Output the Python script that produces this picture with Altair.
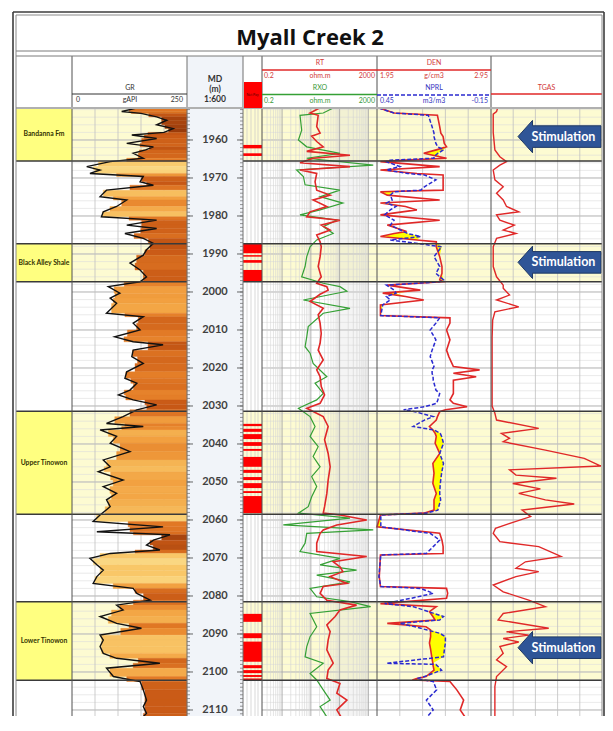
import altair as alt
import pandas as pd

TITLE = "Myall Creek 2"

zone_names = ["Bandanna Fm", "Black Alley Shale", "Upper Tinowon", "Lower Tinowon"]
zone_top = [1951.6, 1987.3, 2031.4, 2081.5]
zone_base = [1965.5, 1997.3, 2058.5, 2102.2]

net_pay_top = [1961.3, 1963.5, 1987.2, 1990.3, 1991.6, 1994.2, 2034.7, 2036.0, 2037.4, 2039.5,
               2041.3, 2043.4, 2046.8, 2048.7, 2050.3, 2052.4, 2053.7, 2084.7, 2089.8, 2092.0,
               2098.2, 2099.5, 2100.8, 2101.7]
net_pay_base = [1962.2, 1964.2, 1989.8, 1990.7, 1992.3, 1997.3, 2035.3, 2036.8, 2038.7, 2040.5,
                2041.8, 2046.0, 2047.6, 2049.5, 2051.6, 2052.9, 2058.2, 2086.8, 2091.1, 2097.3,
                2099.0, 2100.3, 2101.3, 2102.1]

stim_depth = [1959.1, 1992.2, 2093.6]
stim_label = ["Stimulation", "Stimulation", "Stimulation"]

depth_labels = [1960, 1970, 1980, 1990, 2000, 2010, 2020, 2030, 2040, 2050, 2060, 2070, 2080, 2090, 2100, 2110]

# (depth m, GR gAPI)
gr_log = [(1951.6, 140), (1952.5, 108), (1953.0, 150), (1953.9, 184), (1954.8, 206), (1956.0, 184),
          (1957.0, 220), (1958.0, 200), (1958.7, 130), (1959.6, 184), (1960.9, 119), (1961.8, 177),
          (1962.6, 160), (1963.5, 133), (1964.8, 155), (1965.7, 83), (1967.0, 32), (1967.9, 61),
          (1968.8, 39), (1969.6, 155), (1971.0, 148), (1971.9, 177), (1973.2, 75), (1974.9, 61),
          (1975.8, 119), (1977.5, 97), (1978.9, 68), (1980.2, 64), (1981.1, 184), (1982.4, 119),
          (1983.3, 184), (1984.6, 115), (1985.9, 155), (1987.2, 177), (1988.9, 162), (1990.3, 155),
          (1992.4, 126), (1994.2, 148), (1996.0, 162), (1997.3, 148), (1998.6, 79), (2000.3, 104),
          (2001.6, 83), (2003.0, 97), (2005.6, 75), (2006.5, 155), (2008.2, 133), (2010.0, 148),
          (2011.8, 93), (2013.1, 133), (2013.9, 198), (2015.3, 133), (2017.0, 130), (2018.8, 155),
          (2021.0, 119), (2022.7, 115), (2024.0, 141), (2025.8, 126), (2027.1, 101), (2028.4, 133),
          (2029.7, 184), (2031.0, 141), (2032.8, 111), (2034.6, 75), (2035.4, 155), (2036.3, 61),
          (2038.0, 97), (2039.8, 83), (2042.0, 126), (2044.2, 68), (2046.0, 83), (2047.3, 57),
          (2049.5, 111), (2051.2, 68), (2053.0, 97), (2054.7, 75), (2056.5, 83), (2058.7, 61),
          (2060.4, 46), (2061.8, 198), (2063.1, 54), (2063.9, 213), (2065.3, 177), (2066.6, 162),
          (2067.9, 191), (2068.8, 83), (2070.1, 39), (2071.8, 54), (2073.2, 68), (2074.9, 54),
          (2076.7, 46), (2078.0, 133), (2079.3, 141), (2081.1, 170), (2082.4, 97), (2083.7, 111),
          (2085.4, 61), (2087.2, 97), (2088.5, 151), (2090.3, 61), (2091.6, 68), (2093.3, 61),
          (2095.1, 68), (2096.4, 97), (2097.7, 191), (2099.0, 75), (2101.2, 90), (2102.5, 148),
          (2104.7, 155), (2107.4, 162), (2109.1, 155), (2110.9, 162), (2112.6, 148), (2114.8, 119)]

# (depth m, RT ohm.m)
rt_log = [(1951.6, 20), (1952.9, 9.4), (1953.5, 18), (1956.5, 16), (1958.2, 21), (1959.0, 10.7),
          (1960.4, 16), (1961.8, 27), (1963.0, 7.2), (1964.0, 230), (1964.8, 12), (1966.0, 4.2),
          (1967.0, 230), (1967.9, 4.2), (1968.8, 16), (1971.0, 14), (1973.2, 16), (1974.5, 47),
          (1975.8, 12), (1977.5, 36), (1978.9, 9.4), (1980.2, 7.2), (1981.1, 103), (1982.4, 23),
          (1983.7, 47), (1985.0, 16), (1986.8, 21), (1988.1, 23), (1990.7, 21), (1993.3, 18),
          (1996.0, 23), (1997.7, 16), (1998.6, 36), (1999.5, 40), (2000.6, 21), (2002.5, 9.4),
          (2004.3, 27), (2006.0, 18), (2008.2, 21), (2010.9, 23), (2013.5, 21), (2015.3, 18),
          (2017.9, 27), (2020.5, 16), (2022.3, 21), (2024.9, 23), (2027.1, 30), (2029.3, 21),
          (2030.6, 7.2), (2032.8, 27), (2035.4, 40), (2038.9, 30), (2042.5, 40), (2046.0, 47),
          (2049.5, 40), (2053.0, 36), (2056.5, 30), (2058.2, 27), (2058.7, 103), (2060.0, 880),
          (2061.3, 80), (2062.6, 27), (2063.5, 21), (2066.1, 16), (2068.3, 16), (2069.6, 880),
          (2071.0, 60), (2072.3, 103), (2073.6, 130), (2074.9, 47), (2076.7, 180), (2077.5, 27),
          (2079.3, 21), (2081.1, 36), (2082.4, 390), (2083.7, 103), (2085.4, 70), (2087.6, 36),
          (2089.4, 47), (2091.6, 40), (2094.2, 36), (2097.7, 60), (2099.5, 40), (2101.7, 36),
          (2103.0, 103), (2105.6, 80), (2107.4, 180), (2110.0, 80), (2112.6, 130), (2115.3, 103)]

# (depth m, RXO ohm.m)
rxo_log = [(1951.6, 60), (1952.9, 27), (1953.5, 4.2), (1957.4, 4.8), (1960.0, 3.7), (1961.8, 7.2),
           (1963.5, 103), (1964.8, 7.2), (1966.6, 1480), (1967.9, 3.2), (1969.6, 5.5), (1971.8, 6.3),
           (1973.2, 103), (1974.9, 21), (1976.6, 130), (1978.4, 21), (1979.7, 4.2), (1981.1, 80),
           (1982.8, 27), (1984.6, 60), (1986.3, 16), (1988.1, 9.4), (1990.7, 7.2), (1993.3, 6.3),
           (1996.0, 4.8), (1997.7, 27), (1998.6, 103), (1999.8, 180), (2002.1, 5.5), (2004.3, 230),
           (2005.6, 27), (2009.1, 8.1), (2011.8, 7.2), (2014.4, 6.3), (2016.1, 9.4), (2018.8, 12),
           (2022.3, 36), (2024.0, 14), (2026.7, 27), (2028.4, 16), (2030.6, 3.7), (2032.8, 9.4),
           (2035.4, 14), (2038.0, 9.4), (2040.7, 18), (2043.3, 12), (2046.0, 21), (2048.6, 10.7),
           (2051.2, 16), (2053.9, 10.7), (2056.5, 8.1), (2058.2, 3.7), (2059.5, 230), (2061.3, 1.1),
           (2062.6, 1480), (2063.5, 7.2), (2066.1, 6.3), (2068.3, 4.2), (2070.1, 103), (2071.8, 21),
           (2073.2, 390), (2074.5, 16), (2076.3, 230), (2078.0, 9.4), (2080.2, 16), (2081.5, 230),
           (2082.8, 1200), (2084.6, 9.4), (2088.1, 16), (2090.7, 9.4), (2093.3, 7.2), (2096.0, 6.3),
           (2097.7, 27), (2100.4, 9.4), (2102.1, 16), (2104.7, 27), (2107.4, 47), (2109.1, 21),
           (2111.8, 36), (2114.4, 21)]

# (depth m, DEN g/cm3, NPRL m3/m3)
den_nprl_log = [
    (1951.6, 1.97, 0.44), (1952.9, 2.10, 0.36), (1953.5, 2.48, 0.18), (1956.5, 2.50, 0.16),
    (1958.2, 2.51, 0.15), (1959.1, 2.53, 0.15), (1960.9, 2.54, 0.14), (1961.8, 2.56, 0.13),
    (1962.6, 2.47, 0.10), (1963.5, 2.36, 0.13), (1964.4, 2.50, 0.15), (1964.8, 2.56, 0.15),
    (1965.3, 2.20, 0.38), (1965.7, 1.98, 0.40), (1967.0, 2.50, 0.33), (1967.9, 1.98, 0.40),
    (1968.8, 2.30, 0.29), (1969.2, 2.53, 0.20), (1970.5, 2.53, 0.14), (1972.3, 2.53, 0.20),
    (1973.2, 2.53, 0.22), (1973.6, 1.98, 0.36), (1974.5, 2.04, 0.38), (1975.8, 2.50, 0.37),
    (1976.6, 1.98, 0.40), (1977.5, 2.20, 0.35), (1978.4, 2.30, 0.38), (1979.7, 1.98, 0.41),
    (1981.1, 2.50, 0.36), (1982.4, 2.04, 0.38), (1984.1, 2.21, 0.31), (1984.6, 2.10, 0.29),
    (1985.4, 1.98, 0.22), (1986.3, 2.30, 0.38), (1986.8, 2.47, 0.30), (1988.1, 2.47, 0.11),
    (1990.7, 2.50, 0.15), (1993.3, 2.52, 0.12), (1995.1, 2.52, 0.14), (1996.8, 2.50, 0.10),
    (1997.3, 2.53, 0.12), (1998.2, 2.04, 0.40), (1999.5, 2.33, 0.36), (2000.3, 2.00, 0.35),
    (2001.2, 2.20, 0.40), (2002.1, 2.36, 0.38), (2003.4, 1.98, 0.42), (2006.2, 1.98, 0.43),
    (2006.8, 2.59, 0.12), (2008.2, 2.59, 0.14), (2010.0, 2.56, 0.17), (2012.6, 2.59, 0.14),
    (2015.3, 2.56, 0.16), (2017.0, 2.58, 0.17), (2019.6, 2.62, 0.15), (2020.5, 2.85, 0.16),
    (2021.4, 2.62, 0.16), (2022.3, 2.82, 0.155), (2023.2, 2.62, 0.154), (2025.8, 2.62, 0.14),
    (2026.7, 2.62, 0.12), (2028.4, 2.59, 0.13), (2029.3, 2.62, 0.136), (2030.2, 2.74, 0.20),
    (2031.0, 2.55, 0.31), (2031.5, 2.50, 0.25), (2032.8, 2.48, 0.154), (2033.7, 2.47, 0.20),
    (2035.4, 2.41, 0.26), (2036.3, 2.44, 0.15), (2037.2, 2.46, 0.117), (2038.0, 2.47, 0.11),
    (2039.8, 2.46, 0.10), (2042.5, 2.50, 0.12), (2045.1, 2.44, 0.10), (2047.7, 2.45, 0.11),
    (2050.4, 2.44, 0.117), (2053.0, 2.47, 0.12), (2054.7, 2.45, 0.115), (2057.4, 2.45, 0.13),
    (2058.2, 2.36, 0.19), (2058.7, 1.98, 0.43), (2061.8, 1.95, 0.43), (2063.5, 2.50, 0.17),
    (2065.3, 2.52, 0.12), (2067.0, 2.53, 0.154), (2068.8, 2.53, 0.19), (2069.2, 1.98, 0.43),
    (2074.9, 1.97, 0.44), (2077.5, 1.98, 0.43), (2078.0, 2.56, 0.22), (2079.3, 2.57, 0.154),
    (2080.6, 2.56, 0.27), (2082.0, 1.98, 0.41), (2082.8, 2.47, 0.26), (2084.1, 2.41, 0.18),
    (2085.4, 2.44, 0.10), (2086.3, 2.46, 0.12), (2087.2, 2.04, 0.33), (2088.1, 2.38, 0.25),
    (2088.9, 2.42, 0.19), (2089.8, 2.42, 0.12), (2090.7, 2.42, 0.09), (2092.4, 2.41, 0.09),
    (2094.0, 2.42, 0.095), (2096.0, 2.43, 0.10), (2097.7, 2.44, 0.40), (2098.0, 2.44, 0.14),
    (2099.5, 2.45, 0.11), (2101.2, 2.38, 0.20), (2101.7, 2.30, 0.24), (2102.1, 2.26, 0.20),
    (2102.5, 2.59, 0.154), (2104.7, 2.65, 0.136), (2107.4, 2.71, 0.19), (2110.0, 2.68, 0.154),
    (2112.6, 2.74, 0.20), (2115.3, 2.65, 0.17)]

# (depth m, TGAS relative units 0-100)
tgas_log = [(1951.6, 6), (1952.5, 5), (1953.2, 2), (1958.0, 2), (1962.6, 3.5), (1964.4, 8),
            (1965.7, 14), (1966.6, 8), (1967.9, 2), (1970.5, 3.5), (1972.3, 11), (1974.0, 5),
            (1975.8, 11), (1977.5, 14), (1978.9, 25), (1979.7, 5), (1981.1, 8), (1982.4, 21),
            (1983.7, 11), (1984.6, 22.5), (1985.9, 5), (1988.1, 2), (1993.3, 2), (1996.0, 5),
            (1998.2, 11), (1999.0, 11), (2000.8, 16.7), (2002.1, 5), (2003.9, 25), (2005.2, 3.5),
            (2007.4, 1.5), (2012.0, 1), (2020.0, 1), (2030.0, 1), (2031.9, 3.5), (2033.7, 5),
            (2035.9, 43), (2037.2, 9.4), (2038.5, 16.7), (2039.4, 11), (2041.6, 49), (2043.8, 84),
            (2045.8, 99), (2046.8, 16.7), (2048.2, 22.5), (2049.0, 59), (2050.4, 19.6), (2051.8, 44.5),
            (2053.0, 25), (2054.7, 49), (2055.8, 75), (2057.4, 28), (2059.1, 35.7), (2060.9, 17),
            (2062.2, 4), (2063.5, 2), (2065.7, 8), (2067.0, 43), (2069.6, 63), (2071.0, 31),
            (2072.7, 22.5), (2073.6, 43), (2074.9, 22.5), (2077.1, 2), (2078.9, 11), (2081.1, 34),
            (2082.8, 49), (2084.6, 11), (2086.3, 6.4), (2088.5, 52), (2089.4, 14), (2090.3, 34),
            (2091.2, 11), (2092.1, 25), (2093.3, 8), (2095.1, 11), (2096.8, 5), (2098.6, 14),
            (2101.2, 5), (2103.8, 3.5), (2110.0, 3.5), (2115.0, 3.5)]

gr_grid = [50, 100, 150, 200]
den_grid = [2.15, 2.35, 2.55, 2.75]
tgas_grid = [20, 40, 60, 80]
res_major = [1, 10, 100, 1000]
res_minor = [round(k * 10 ** e, 4) for e in (-1, 0, 1, 2, 3) for k in range(2, 10) if 0.2 < k * 10 ** e < 2000]
res_shade = [80, 1000]
hgrid_minor = list(range(1952, 2114, 2))
hgrid_major = list(range(1960, 2114, 10))
tick_small = list(range(1952, 2114))

# ---------------- layout (pixels inside the canvas) ----------------
W, H = 597, 708
FX0, GX0, GX1, DX1, LX1, RX1, NX1, TX1 = 8, 64, 179, 235, 254, 369, 483, 594
HY0, HY1 = 48, 100
YB = H
PXM = 3.8  # pixels per metre
D0 = 1951.58
D1 = D0 + (YB - HY1) / PXM

RED, GREEN, BLUE = "#e02828", "#35a035", "#2a2ad0"
TRED, TGREEN, TBLUE, TGRAY = "#d23a3a", "#3a9a3a", "#3535c0", "#333333"
FONT = "Lato"
GR_COLORS = ["#fde9a0", "#f9c86a", "#f2a040", "#e27a26", "#c95a16", "#9a3c0c"]
GR_STOPS = [30, 60, 90, 120, 160, 210]

one = pd.DataFrame({"k": [0]})

yscale = alt.Scale(domain=[D0, D1], range=[HY1, YB], zero=False, nice=False)
grx = alt.Scale(domain=[0, 250], range=[GX0, GX1], zero=False, nice=False)
rsx = alt.Scale(type="log", domain=[0.2, 2000], range=[LX1, RX1], nice=False)
dnx = alt.Scale(domain=[1.95, 2.95], range=[RX1, NX1], zero=False, nice=False)
npx = alt.Scale(domain=[-0.15, 0.45], range=[NX1, RX1], zero=False, nice=False)
tgx = alt.Scale(domain=[0, 100], range=[NX1, TX1], zero=False, nice=False)


def Yq(f):
    return alt.Y(f, type="quantitative", scale=yscale, axis=None)


def hline(x1, x2, y, color, width=1.0, dash=None):
    kw = {"strokeDash": dash} if dash else {}
    return alt.Chart(one).mark_rule(color=color, strokeWidth=width, clip=True, **kw).encode(
        x=alt.value(x1), x2=alt.value(x2), y=alt.value(y))


def vline(x, y1, y2, color, width=1.0):
    return alt.Chart(one).mark_rule(color=color, strokeWidth=width, clip=True).encode(
        x=alt.value(x), y=alt.value(y1), y2=alt.value(y2))


def label(s, x, y, size=7, color=TGRAY, align="center", bold=False, baseline="middle", font=FONT):
    return alt.Chart(one).mark_text(align=align, baseline=baseline, fontSize=size, color=color,
                                    font=font, fontWeight="bold" if bold else "normal").encode(
        x=alt.value(x), y=alt.value(y), text=alt.value(s))


def box(x1, x2, y1, y2, color):
    return alt.Chart(one).mark_rect(color=color, clip=True).encode(
        x=alt.value(x1), x2=alt.value(x2), y=alt.value(y1), y2=alt.value(y2))


zones = pd.DataFrame({"name": zone_names, "top": zone_top, "base": zone_base})
bounds = pd.DataFrame({"d": zone_top + zone_base})
netpay = pd.DataFrame({"top": net_pay_top, "base": net_pay_base})
stims = pd.DataFrame({"depth": stim_depth, "label": stim_label})
gr_df = pd.DataFrame(gr_log, columns=["depth", "gr"])
rt_df = pd.DataFrame(rt_log, columns=["depth", "rt"])
rxo_df = pd.DataFrame(rxo_log, columns=["depth", "rxo"])
dn_df = pd.DataFrame(den_nprl_log, columns=["depth", "den", "nprl"])
tg_df = pd.DataFrame(tgas_log, columns=["depth", "tgas"])

layers = []

# backgrounds
layers.append(box(GX1, DX1, HY0, YB, "#f1f4f9"))
layers.append(alt.Chart(zones).mark_rect(color="#ffff80", clip=True).encode(
    x=alt.value(FX0), x2=alt.value(GX0), y=Yq("top"), y2="base"))
for xa, xb in [(GX0, GX1), (DX1, TX1)]:
    layers.append(alt.Chart(zones).mark_rect(color="#fdfbd2", clip=True).encode(
        x=alt.value(xa), x2=alt.value(xb), y=Yq("top"), y2="base"))

# horizontal depth grid
for xa, xb in [(GX0, GX1), (LX1, TX1)]:
    layers.append(alt.Chart(pd.DataFrame({"d": hgrid_minor})).mark_rule(
        color="#dcdcdc", strokeWidth=0.6, clip=True).encode(x=alt.value(xa), x2=alt.value(xb), y=Yq("d")))
    layers.append(alt.Chart(pd.DataFrame({"d": hgrid_major})).mark_rule(
        color="#b4b4b4", strokeWidth=0.9, clip=True).encode(x=alt.value(xa), x2=alt.value(xb), y=Yq("d")))

# lithology column verticals
for xv in [239, 243, 247, 250]:
    layers.append(vline(xv, HY1, YB, "#c8c8c8", 0.7))

# GR track
gr_grid_l = alt.Chart(pd.DataFrame({"v": gr_grid})).mark_rule(color="#c0c0c0", strokeWidth=0.8, clip=True).encode(
    x=alt.X("v:Q", scale=grx, axis=None), y=alt.value(HY1), y2=alt.value(YB))
gr_fill = alt.Chart(gr_df).transform_window(
    window=[alt.WindowFieldDef(op="lead", field="depth", **{"as": "d2"}),
            alt.WindowFieldDef(op="lead", field="gr", **{"as": "g2"})],
    sort=[alt.SortField(field="depth", order="ascending")],
).transform_filter("isValid(datum.d2)").transform_calculate(
    gm="(datum.gr + datum.g2) / 2", gend="250"
).mark_rect(strokeWidth=0.4, clip=True).encode(
    x=alt.X("gm:Q", scale=grx, axis=None), x2="gend:Q",
    y=Yq("depth"), y2="d2:Q",
    color=alt.Color("gm:Q", legend=None, scale=alt.Scale(domain=GR_STOPS, range=GR_COLORS)),
    stroke=alt.Stroke("gm:Q", legend=None, scale=alt.Scale(domain=GR_STOPS, range=GR_COLORS)),
)
gr_line = alt.Chart(gr_df).mark_line(color="#111111", strokeWidth=1.4, clip=True).encode(
    x=alt.X("gr:Q", scale=grx, axis=None), y=Yq("depth"), order="depth:Q")
layers.append(alt.layer(gr_grid_l, gr_fill, gr_line))

# Resistivity track
res_shade_l = alt.Chart(pd.DataFrame({"a": [res_shade[0]], "b": [res_shade[1]]})).mark_rect(
    color="#d8d8d8", opacity=0.28, clip=True).encode(
    x=alt.X("a:Q", scale=rsx, axis=None), x2="b:Q", y=alt.value(HY1), y2=alt.value(YB))
res_min_l = alt.Chart(pd.DataFrame({"v": res_minor})).mark_rule(color="#d4d4d4", strokeWidth=0.6, clip=True).encode(
    x=alt.X("v:Q", scale=rsx, axis=None), y=alt.value(HY1), y2=alt.value(YB))
res_maj_l = alt.Chart(pd.DataFrame({"v": res_major})).mark_rule(color="#a8a8a8", strokeWidth=0.9, clip=True).encode(
    x=alt.X("v:Q", scale=rsx, axis=None), y=alt.value(HY1), y2=alt.value(YB))
rxo_line = alt.Chart(rxo_df).mark_line(color=GREEN, strokeWidth=1.2, clip=True).encode(
    x=alt.X("rxo:Q", scale=rsx, axis=None), y=Yq("depth"), order="depth:Q")
rt_line = alt.Chart(rt_df).mark_line(color=RED, strokeWidth=1.6, clip=True).encode(
    x=alt.X("rt:Q", scale=rsx, axis=None), y=Yq("depth"), order="depth:Q")
layers.append(alt.layer(res_shade_l, res_min_l, res_maj_l, rxo_line, rt_line))

# Density / neutron track
den_grid_l = alt.Chart(pd.DataFrame({"v": den_grid})).mark_rule(color="#c0c0c0", strokeWidth=0.8, clip=True).encode(
    x=alt.X("v:Q", scale=dnx, axis=None), y=alt.value(HY1), y2=alt.value(YB))
gas_fill = alt.Chart(dn_df).transform_calculate(
    neq="1.95 + (0.45 - datum.nprl) / 0.6"
).transform_calculate(fx2="max(datum.den, datum.neq)").mark_area(
    orient="horizontal", color="#ffff00", opacity=1, clip=True).encode(
    x=alt.X("den:Q", scale=dnx, axis=None), x2="fx2:Q", y=Yq("depth"))
den_line = alt.Chart(dn_df).mark_line(color=RED, strokeWidth=1.6, clip=True).encode(
    x=alt.X("den:Q", scale=dnx, axis=None), y=Yq("depth"), order="depth:Q")
layers.append(alt.layer(den_grid_l, gas_fill, den_line))
nprl_line = alt.Chart(dn_df).mark_line(color=BLUE, strokeWidth=1.5, strokeDash=[4, 2], clip=True).encode(
    x=alt.X("nprl:Q", scale=npx, axis=None), y=Yq("depth"), order="depth:Q")
layers.append(nprl_line)

# TGAS track
tg_grid_l = alt.Chart(pd.DataFrame({"v": tgas_grid})).mark_rule(color="#c0c0c0", strokeWidth=0.8, clip=True).encode(
    x=alt.X("v:Q", scale=tgx, axis=None), y=alt.value(HY1), y2=alt.value(YB))
tg_line = alt.Chart(tg_df).mark_line(color=RED, strokeWidth=1.4, clip=True).encode(
    x=alt.X("tgas:Q", scale=tgx, axis=None), y=Yq("depth"), order="depth:Q")
layers.append(alt.layer(tg_grid_l, tg_line))

# net pay flags
layers.append(alt.Chart(netpay).mark_rect(color="#ff0000", clip=True).encode(
    x=alt.value(DX1), x2=alt.value(LX1), y=Yq("top"), y2="base"))

# zone boundaries
for xa, xb in [(FX0, GX1), (DX1, TX1)]:
    layers.append(alt.Chart(bounds).mark_rule(color="#3a3a3a", strokeWidth=1.5, clip=True).encode(
        x=alt.value(xa), x2=alt.value(xb), y=Yq("d")))

# depth ticks and labels
for xa, xb in [(GX1, GX1 + 3), (DX1 - 3, DX1)]:
    layers.append(alt.Chart(pd.DataFrame({"d": tick_small})).mark_rule(
        color="#666666", strokeWidth=0.7, clip=True).encode(x=alt.value(xa), x2=alt.value(xb), y=Yq("d")))
for xa, xb in [(GX1, GX1 + 6), (DX1 - 6, DX1)]:
    layers.append(alt.Chart(pd.DataFrame({"d": depth_labels})).mark_rule(
        color="#555555", strokeWidth=0.9, clip=True).encode(x=alt.value(xa), x2=alt.value(xb), y=Yq("d")))
layers.append(alt.Chart(pd.DataFrame({"d": depth_labels})).mark_text(
    fontSize=11, fontWeight="bold", color="#404040", font=FONT, baseline="middle", clip=True).encode(
    x=alt.value(207), y=Yq("d"), text=alt.Text("d:Q", format="d")))

# formation names
layers.append(alt.Chart(zones).transform_calculate(mid="(datum.top + datum.base) / 2").mark_text(
    fontSize=6.8, fontWeight="bold", color="#333300", font=FONT, baseline="middle").encode(
    x=alt.value((FX0 + GX0) / 2), y=Yq("mid:Q"), text="name:N"))

# track separators (data + header)
for xv, col in [(GX0, "#505050"), (GX1, "#707070"), (DX1, "#707070"), (LX1, "#505050"),
                (RX1, "#505050"), (NX1, "#505050")]:
    layers.append(vline(xv, HY0, YB, col, 1.0))

# stimulation arrows
ARROW = "M-1,0 L-0.65,-0.39 L-0.65,-0.26 L1,-0.26 L1,0.26 L-0.65,0.26 L-0.65,0.39 Z"
layers.append(alt.Chart(stims).mark_point(shape=ARROW, size=6889, filled=True, color="#2f5597",
                                          stroke="#1f3864", strokeWidth=1, opacity=1).encode(
    x=alt.value(551.5), y=Yq("depth")))
layers.append(alt.Chart(stims).mark_text(fontSize=12.5, fontWeight="bold", color="white",
                                         font=FONT, baseline="middle").encode(
    x=alt.value(555.5), y=Yq("depth"), text="label:N"))

# header
layers.append(label(TITLE, 302, 37, size=22, color="#111111", bold=True, baseline="alphabetic",
                    font="Open Sans"))
layers.append(hline(FX0, TX1, 43, "#7a7a7a", 1))
layers.append(hline(FX0, TX1, 48, "#7a7a7a", 1))
layers.append(hline(FX0, TX1, HY1, "#b0b0b0", 2))
# GR header
layers.append(label("GR", 122, 80, color=TGRAY))
layers.append(hline(GX0, GX1, 86, "#333333", 1))
layers.append(label("0", 68, 92, color=TGRAY, align="left"))
layers.append(label("gAPI", 122, 92, color=TGRAY))
layers.append(label("250", 175, 92, color=TGRAY, align="right"))
# depth header
layers.append(label("MD", 207, 71, size=8.5, color="#333333", bold=True))
layers.append(label("(m)", 207, 80.5, size=8.5, color="#333333", bold=True))
layers.append(label("1:600", 207, 91, size=8.5, color="#333333", bold=True))
# net pay header
layers.append(box(DX1 + 1, LX1, 74, HY1, "#ff0000"))
layers.append(label("Net Pay", (DX1 + LX1) / 2, 87, size=3.5, color="#550000"))
# resistivity header
layers.append(label("RT", 312, 55, color=TRED))
layers.append(hline(LX1, RX1, 62, RED, 1.5))
layers.append(label("0.2", 256, 68, color=TRED, align="left"))
layers.append(label("ohm.m", 312, 68, color=TRED))
layers.append(label("2000", 367, 68, color=TRED, align="right"))
layers.append(label("RXO", 312, 80, color=TGREEN))
layers.append(hline(LX1, RX1, 86.5, GREEN, 1.5))
layers.append(label("0.2", 256, 92.5, color=TGREEN, align="left"))
layers.append(label("ohm.m", 312, 92.5, color=TGREEN))
layers.append(label("2000", 367, 92.5, color=TGREEN, align="right"))
# density / neutron header
layers.append(label("DEN", 426, 55, color=TRED))
layers.append(hline(RX1, NX1, 62, RED, 1.5))
layers.append(label("1.95", 372, 68, color=TRED, align="left"))
layers.append(label("g/cm3", 426, 68, color=TRED))
layers.append(label("2.95", 480, 68, color=TRED, align="right"))
layers.append(label("NPRL", 426, 80, color=TBLUE))
layers.append(hline(RX1, NX1, 87, BLUE, 1.5, dash=[4, 2]))
layers.append(label("0.45", 372, 92.5, color=TBLUE, align="left"))
layers.append(label("m3/m3", 426, 92.5, color=TBLUE))
layers.append(label("-0.15", 480, 92.5, color=TBLUE, align="right"))
# TGAS header
layers.append(label("TGAS", (NX1 + TX1) / 2, 80, color=TRED))
layers.append(hline(NX1, TX1, 86, RED, 1.5))

# frames (no bottom edge: the log continues below the window)
layers.append(hline(FX0, TX1, 7, "#8a8a8a", 1))
layers.append(vline(FX0, 7, YB, "#8a8a8a", 1))
layers.append(vline(TX1, 7, YB, "#8a8a8a", 1))
layers.append(hline(5, 596, 4, "#3c3c3c", 1.6))
layers.append(vline(5, 4, YB, "#3c3c3c", 1.6))
layers.append(vline(596, 4, YB, "#3c3c3c", 1.6))

chart = alt.layer(*layers).resolve_scale(
    x="independent", color="independent", stroke="independent"
).properties(
    width=W, height=H, padding=0, background="white",
    autosize=alt.AutoSizeParams(type="none"),
).configure_view(strokeWidth=0)

chart.save("out.html", embed_options={"renderer": "svg", "actions": False})
